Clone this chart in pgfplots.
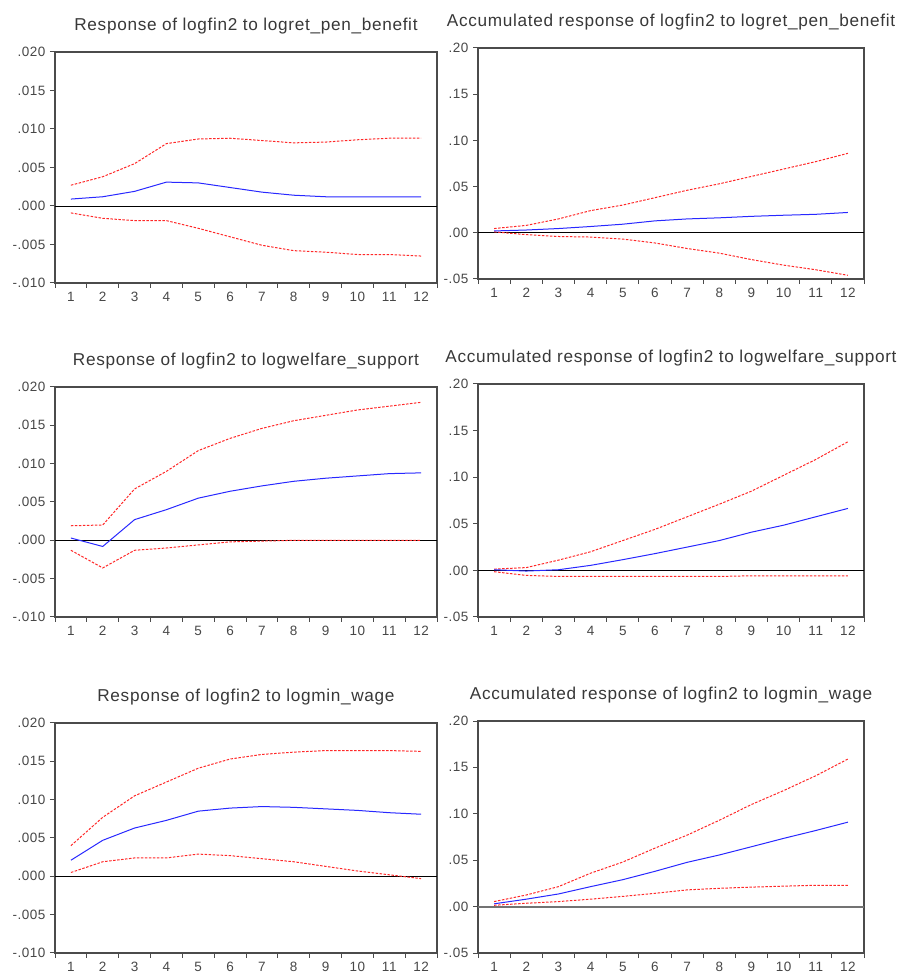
\documentclass[border=0pt]{standalone}
\usepackage{fontspec}
\setmainfont{Liberation Sans}
\newfontfamily\evf[LetterSpace=4]{Liberation Sans}
\usepackage{pgfplots}
\usepackage{pgfplotstable}
\pgfplotsset{compat=1.18}
\definecolor{frm}{RGB}{75,75,75}
\definecolor{irfblue}{RGB}{40,40,255}
\definecolor{irfred}{RGB}{255,40,40}

\pgfplotstableread{
x b u l
1 0.0009 0.0027 -0.0009
2 0.0012 0.0038 -0.0016
3 0.0019 0.0055 -0.0019
4 0.0031 0.0081 -0.0019
5 0.0030 0.0087 -0.0029
6 0.0024 0.0088 -0.0040
7 0.0018 0.0085 -0.0051
8 0.0014 0.0082 -0.0058
9 0.0012 0.0083 -0.0060
10 0.0012 0.0086 -0.0063
11 0.0012 0.0088 -0.0063
12 0.0012 0.0088 -0.0065
}\tA
\pgfplotstableread{
x b u l
1 0.0020 0.0046 0.0010
2 0.0030 0.0080 -0.0020
3 0.0046 0.0150 -0.0040
4 0.0068 0.0240 -0.0046
5 0.0093 0.0300 -0.0068
6 0.0129 0.0380 -0.0110
7 0.0150 0.0460 -0.0170
8 0.0162 0.0530 -0.0220
9 0.0178 0.0610 -0.0290
10 0.0190 0.0690 -0.0350
11 0.0200 0.0770 -0.0400
12 0.0220 0.0860 -0.0460
}\tB
\pgfplotstableread{
x b u l
1 0.0003 0.0019 -0.0013
2 -0.0008 0.0020 -0.0036
3 0.0027 0.0067 -0.0013
4 0.0040 0.0090 -0.0010
5 0.0055 0.0117 -0.0006
6 0.0064 0.0133 -0.0002
7 0.0071 0.0146 -0.0001
8 0.0077 0.0156 0.0000
9 0.0081 0.0163 0.0000
10 0.0084 0.0170 0.0000
11 0.0087 0.0175 0.0000
12 0.0088 0.0180 0.0000
}\tC
\pgfplotstableread{
x b u l
1 0.0007 0.0014 -0.0014
2 -0.0007 0.0030 -0.0054
3 0.0007 0.0110 -0.0065
4 0.0054 0.0200 -0.0065
5 0.0115 0.0320 -0.0065
6 0.0180 0.0440 -0.0065
7 0.0250 0.0575 -0.0065
8 0.0320 0.0710 -0.0065
9 0.0410 0.0850 -0.0058
10 0.0485 0.1020 -0.0058
11 0.0575 0.1190 -0.0058
12 0.0665 0.1380 -0.0058
}\tD
\pgfplotstableread{
x b u l
1 0.0021 0.0040 0.0005
2 0.0047 0.0077 0.0019
3 0.0063 0.0105 0.0024
4 0.0073 0.0123 0.0024
5 0.0085 0.0141 0.0029
6 0.0089 0.0153 0.0027
7 0.0091 0.0159 0.0023
8 0.0090 0.0162 0.0019
9 0.0088 0.0164 0.0013
10 0.0086 0.0164 0.0007
11 0.0083 0.0164 0.0002
12 0.0081 0.0163 -0.0003
}\tE
\pgfplotstableread{
x b u l
1 0.0030 0.0054 0.0014
2 0.0080 0.0125 0.0036
3 0.0136 0.0215 0.0054
4 0.0215 0.0360 0.0080
5 0.0290 0.0480 0.0110
6 0.0380 0.0630 0.0143
7 0.0477 0.0770 0.0180
8 0.0556 0.0930 0.0197
9 0.0645 0.1100 0.0210
10 0.0735 0.1250 0.0220
11 0.0820 0.1410 0.0230
12 0.0910 0.1590 0.0230
}\tF

\pgfplotsset{
  ev/.style={
    scale only axis, xmin=0.5, xmax=12.5,
    scaled y ticks=false,
    axis line style={frm, line width=1.3pt},
    xtick={1,...,12},
    xticklabels={1,2,3,4,5,6,7,8,9,10,11,12},
    major x tick style={draw=none},
    minor xtick={0.5,1.5,...,12.5},
    tick align=outside, xtick pos=bottom, ytick pos=left,
    major tick length=5pt, minor tick length=5pt,
    tick style={frm, line width=1pt},
    ticklabel style={font=\evf\fontsize{13.5}{14}\selectfont, text=black!72},
    xticklabel style={yshift=-1pt},
    yticklabel style={xshift=-1pt},
    title style={font=\evf\fontsize{17.2}{18}\selectfont, text=black!78, at={(0.5,1)}, anchor=center, yshift=20pt},
    clip=false,
  },
  evl/.style={ev, width=382pt, ymin=-0.010, ymax=0.020,
    ytick={-0.010,-0.005,0,0.005,0.010,0.015,0.020},
    yticklabels={-.010,-.005,.000,.005,.010,.015,.020}},
  evr/.style={ev, width=386pt, ymin=-0.05, ymax=0.20,
    ytick={-0.05,0,0.05,0.10,0.15,0.20},
    yticklabels={-.05,.00,.05,.10,.15,.20}},
  bl/.style={irfblue, line width=1pt},
  rd/.style={irfred, line width=1pt, dash pattern=on 2.5pt off 1.5pt},
  zl/.style={black, line width=0.9pt},
}

\begin{document}
\begin{tikzpicture}
\useasboundingbox (0,0) rectangle (902pt,975pt);
% row 1
\begin{axis}[evl, at={(55pt,692pt)}, height=231pt, title={Response of logfin2 to logret\_pen\_benefit}]
\addplot[zl] coordinates {(0.5,0) (12.5,0)};
\addplot[rd] table[x=x,y=u]{\tA};
\addplot[rd] table[x=x,y=l]{\tA};
\addplot[bl] table[x=x,y=b]{\tA};
\end{axis}
\begin{axis}[evr, at={(478pt,696pt)}, height=231pt, title={Accumulated response of logfin2 to logret\_pen\_benefit}]
\addplot[zl] coordinates {(0.5,0) (12.5,0)};
\addplot[rd] table[x=x,y=u]{\tB};
\addplot[rd] table[x=x,y=l]{\tB};
\addplot[bl] table[x=x,y=b]{\tB};
\end{axis}
% row 2
\begin{axis}[evl, at={(55pt,358pt)}, height=230pt, title={Response of logfin2 to logwelfare\_support}]
\addplot[zl] coordinates {(0.5,0) (12.5,0)};
\addplot[rd] table[x=x,y=u]{\tC};
\addplot[rd] table[x=x,y=l]{\tC};
\addplot[bl] table[x=x,y=b]{\tC};
\end{axis}
\begin{axis}[evr, at={(478pt,358pt)}, height=233pt, title={Accumulated response of logfin2 to logwelfare\_support}]
\addplot[zl] coordinates {(0.5,0) (12.5,0)};
\addplot[rd] table[x=x,y=u]{\tD};
\addplot[rd] table[x=x,y=l]{\tD};
\addplot[bl] table[x=x,y=b]{\tD};
\end{axis}
% row 3
\begin{axis}[evl, at={(55pt,22pt)}, height=230pt, title={Response of logfin2 to logmin\_wage}]
\addplot[zl] coordinates {(0.5,0) (12.5,0)};
\addplot[rd] table[x=x,y=u]{\tE};
\addplot[rd] table[x=x,y=l]{\tE};
\addplot[bl] table[x=x,y=b]{\tE};
\end{axis}
\begin{axis}[evr, at={(478pt,22pt)}, height=232pt, title={Accumulated response of logfin2 to logmin\_wage}]
\addplot[black!55, line width=1.8pt] coordinates {(0.5,0) (12.5,0)};
\addplot[rd] table[x=x,y=u]{\tF};
\addplot[rd] table[x=x,y=l]{\tF};
\addplot[bl] table[x=x,y=b]{\tF};
\end{axis}
\end{tikzpicture}
\end{document}
